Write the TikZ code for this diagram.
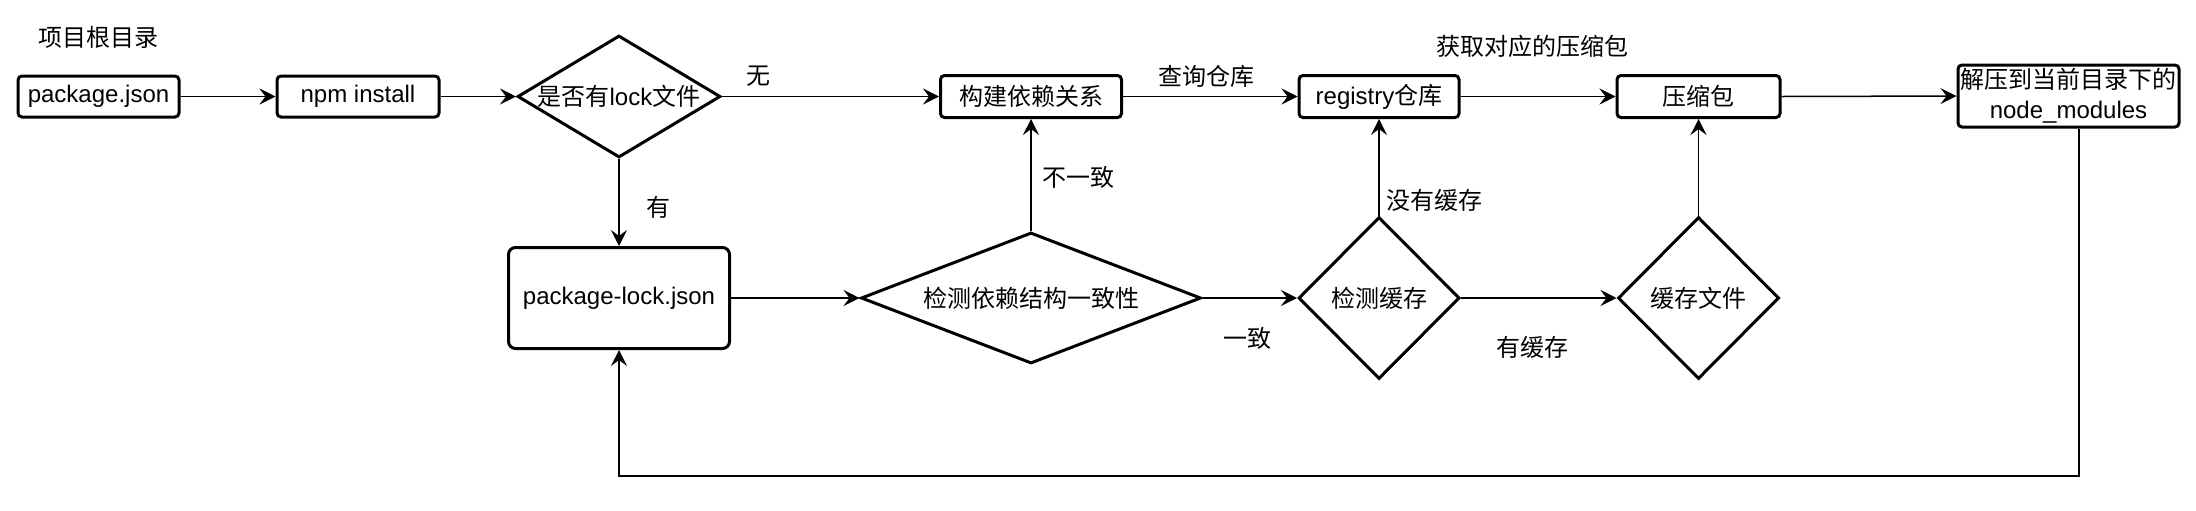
\documentclass[tikz,border=0pt]{standalone}
\usepackage{fontspec}
\setmainfont{Liberation Sans}
\newfontfamily\cjk{Noto Sans CJK SC}
\usetikzlibrary{shapes.geometric,arrows.meta}
\begin{document}
\begin{tikzpicture}[x=0.5pt,y=-0.5pt,
  font=\fontsize{12pt}{15pt}\selectfont,
  box/.style={draw, line width=1.5pt, rounded corners=2pt, inner sep=0pt, align=center},
  dia/.style={draw, diamond, line width=1.5pt, inner sep=0pt, align=center},
  arr/.style={line width=0.75pt, -{Stealth[length=8pt,width=8pt,inset=3pt]}},
  lbl/.style={inner sep=0pt, font=\fontsize{12pt}{15pt}\selectfont\cjk}]
\useasboundingbox (0,0) rectangle (2196,510);

% title
\node[lbl] (title) at (99,37) {项目根目录};

% top row
\node[box, minimum width=80.5pt, minimum height=20.5pt] (pj) at (98.5,96.5) {package.json};
\node[box, minimum width=81pt, minimum height=20.5pt] (npm) at (358,96.5) {npm install};
\node[dia, aspect=1.66, minimum width=101.5pt, minimum height=61pt] (lockq) at (619,96.5) {{\cjk 是否有}lock{\cjk 文件}};
\node[box, minimum width=90.5pt, minimum height=21pt, font=\fontsize{12pt}{15pt}\selectfont\cjk] (build) at (1031,96.5) {构建依赖关系};
\node[box, minimum width=80pt, minimum height=21pt] (reg) at (1379,96.5) {registry{\cjk 仓库}};
\node[box, minimum width=81.5pt, minimum height=21pt, font=\fontsize{12pt}{15pt}\selectfont\cjk] (tgz) at (1698.5,96.5) {压缩包};
\node[box, minimum width=110.5pt, minimum height=31pt] (nm) at (2068.5,96) {{\cjk 解压到当前目录下的}\\node\_modules};

% bottom row
\node[box, rounded corners=3.5pt, minimum width=110.5pt, minimum height=50.5pt] (plock) at (619,298) {package-lock.json};
\node[dia, aspect=2.6, minimum width=170pt, minimum height=65.5pt, font=\fontsize{12pt}{15pt}\selectfont\cjk] (consist) at (1031,298) {检测依赖结构一致性};
\node[dia, aspect=1, minimum width=80.5pt, minimum height=81pt, font=\fontsize{12pt}{15pt}\selectfont\cjk] (cachechk) at (1379,298) {检测缓存};
\node[dia, aspect=1, minimum width=80.5pt, minimum height=81pt, font=\fontsize{12pt}{15pt}\selectfont\cjk] (cachefile) at (1698.5,298) {缓存文件};

% labels
\node[lbl] (lno) at (758,76) {无};
\node[lbl] (lquery) at (1206,76) {查询仓库};
\node[lbl] (lget) at (1532,46) {获取对应的压缩包};
\node[lbl] (lyes) at (658,207) {有};
\node[lbl] (ldiff) at (1078,177) {不一致};
\node[lbl] (lnocache) at (1434,200) {没有缓存};
\node[lbl] (lsame) at (1247,338) {一致};
\node[lbl] (lhascache) at (1532,347) {有缓存};

% connectors
\draw[arr] (pj.east) -- (npm.west);
\draw[arr] (npm.east) -- (lockq.west);
\draw[arr] (lockq.east) -- (build.west);
\draw[arr] (build.east) -- (reg.west);
\draw[arr] (reg.east) -- (tgz.west);
\draw[arr] (tgz.east) -- (nm.west);
\draw[arr] (lockq.south) -- (plock.north);
\draw[arr] (plock.east) -- (consist.west);
\draw[arr] (consist.north) -- (build.south);
\draw[arr] (consist.east) -- (cachechk.west);
\draw[arr] (cachechk.north) -- (reg.south);
\draw[arr] (cachechk.east) -- (cachefile.west);
\draw[arr] (cachefile.north) -- (tgz.south);
\coordinate (loopy) at (1300,476);
\draw[arr] ([xshift=5.25pt]nm.south) |- (loopy) -| (plock.south);
\end{tikzpicture}
\end{document}
